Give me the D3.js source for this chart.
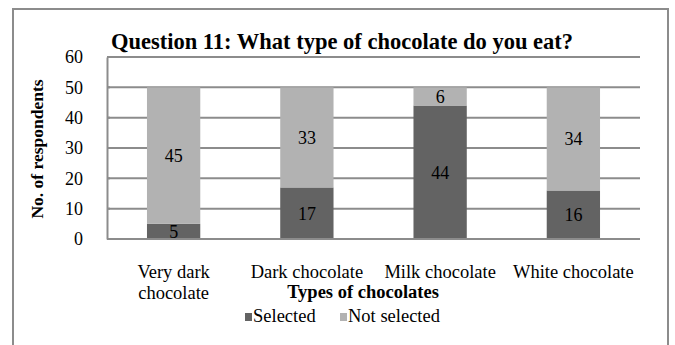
<!DOCTYPE html>
<html>
<head>
<meta charset="utf-8">
<script src="https://cdn.jsdelivr.net/npm/d3@7"></script>
<style>
  html, body { margin: 0; padding: 0; background: #fff; }
  svg { display: block; }
  svg text { font-family: "Liberation Serif", "Times New Roman", serif !important; fill: #000; }
</style>
</head>
<body>
<svg id="chart" width="675" height="345"></svg>
<script>
// Survey results: what type of chocolate respondents eat
const categories = [["Very dark", "chocolate"], ["Dark chocolate"], ["Milk chocolate"], ["White chocolate"]];
const selected = [5, 17, 44, 16];
const notSelected = [45, 33, 6, 34];
const seriesNames = ["Selected", "Not selected"];
const yTicks = [0, 10, 20, 30, 40, 50, 60];

const colors = { "Selected": "#636363", "Not selected": "#b2b2b2" };

const svg = d3.select("#chart");

// outer frame
svg.append("rect")
  .attr("x", 13).attr("y", 9).attr("width", 655).attr("height", 345)
  .attr("fill", "#fff").attr("stroke", "#8c8c8c").attr("stroke-width", 2);

const plot = { left: 107, right: 640, top: 57, bottom: 239 };

const keys = categories.map(c => c.join(" "));
const x = d3.scaleBand().domain(keys)
  .range([plot.left, plot.right]).paddingInner(0.6).paddingOuter(0.3);
const y = d3.scaleLinear().domain([0, 60]).range([plot.bottom, plot.top]);

// gridlines
svg.append("g").selectAll("line").data(yTicks.filter(t => t > 0)).join("line")
  .attr("x1", plot.left).attr("x2", plot.right)
  .attr("y1", d => y(d)).attr("y2", d => y(d))
  .attr("stroke", "#8c8c8c").attr("stroke-width", 2);

// stacked bars
const rows = keys.map((k, i) => ({ key: k, "Selected": selected[i], "Not selected": notSelected[i] }));
const stack = d3.stack().keys(seriesNames)(rows);

const layers = svg.append("g").selectAll("g").data(stack).join("g")
  .attr("fill", d => colors[d.key]);
layers.selectAll("rect").data(d => d).join("rect")
  .attr("x", d => x(d.data.key))
  .attr("width", x.bandwidth())
  .attr("y", d => y(d[1]))
  .attr("height", d => y(d[0]) - y(d[1]));

// value labels, centred in each segment
layers.selectAll("text").data(d => d).join("text")
  .attr("x", d => x(d.data.key) + x.bandwidth() / 2)
  .attr("y", d => (y(d[0]) + y(d[1])) / 2)
  .attr("dy", "0.35em")
  .attr("text-anchor", "middle")
  .attr("font-size", 18)
  .text(d => d[1] - d[0]);

// y axis
const yAxis = d3.axisLeft(y).tickValues(yTicks).tickSize(0).tickPadding(24);
const gy = svg.append("g").attr("transform", `translate(${plot.left},0)`).call(yAxis);
gy.attr("font-family", null).attr("font-size", null);
gy.select(".domain").attr("stroke", "#8c8c8c").attr("stroke-width", 2);
gy.selectAll("text").attr("font-size", 18).attr("fill", "#000");
// small inward tick marks
svg.append("g").selectAll("line").data(yTicks).join("line")
  .attr("x1", plot.left).attr("x2", plot.left + 3)
  .attr("y1", d => y(d)).attr("y2", d => y(d))
  .attr("stroke", "#8c8c8c").attr("stroke-width", 2);

// x axis baseline
svg.append("line")
  .attr("x1", plot.left).attr("x2", plot.right)
  .attr("y1", plot.bottom).attr("y2", plot.bottom)
  .attr("stroke", "#8c8c8c").attr("stroke-width", 2);

// category labels
const xl = svg.append("g").selectAll("text").data(categories).join("text")
  .attr("x", (d, i) => x(keys[i]) + x.bandwidth() / 2)
  .attr("y", 278)
  .attr("text-anchor", "middle")
  .attr("font-size", 18.5);
xl.selectAll("tspan").data(d => d).join("tspan")
  .attr("x", function () { return this.parentNode.getAttribute("x"); })
  .attr("dy", (d, i) => i === 0 ? 0 : 21)
  .text(d => d);

// title
svg.append("text")
  .attr("x", 342).attr("y", 49)
  .attr("text-anchor", "middle")
  .attr("font-size", 22.5).attr("font-weight", "bold")
  .text("Question 11: What type of chocolate do you eat?");

// axis titles
svg.append("text")
  .attr("transform", `translate(43,${(plot.top + plot.bottom) / 2 + 1}) rotate(-90)`)
  .attr("text-anchor", "middle")
  .attr("font-size", 17.5).attr("font-weight", "bold")
  .text("No. of respondents");

svg.append("text")
  .attr("x", 363).attr("y", 298)
  .attr("text-anchor", "middle")
  .attr("font-size", 18.5).attr("font-weight", "bold")
  .text("Types of chocolates");

// legend
const legendX = [245, 340];
const lg = svg.append("g").selectAll("g").data(seriesNames).join("g")
  .attr("transform", (d, i) => `translate(${legendX[i]},313)`);
lg.append("rect").attr("width", 7).attr("height", 8).attr("fill", d => colors[d]);
lg.append("text").attr("x", 8).attr("y", 9).attr("font-size", 18.5).text(d => d);
</script>
</body>
</html>
